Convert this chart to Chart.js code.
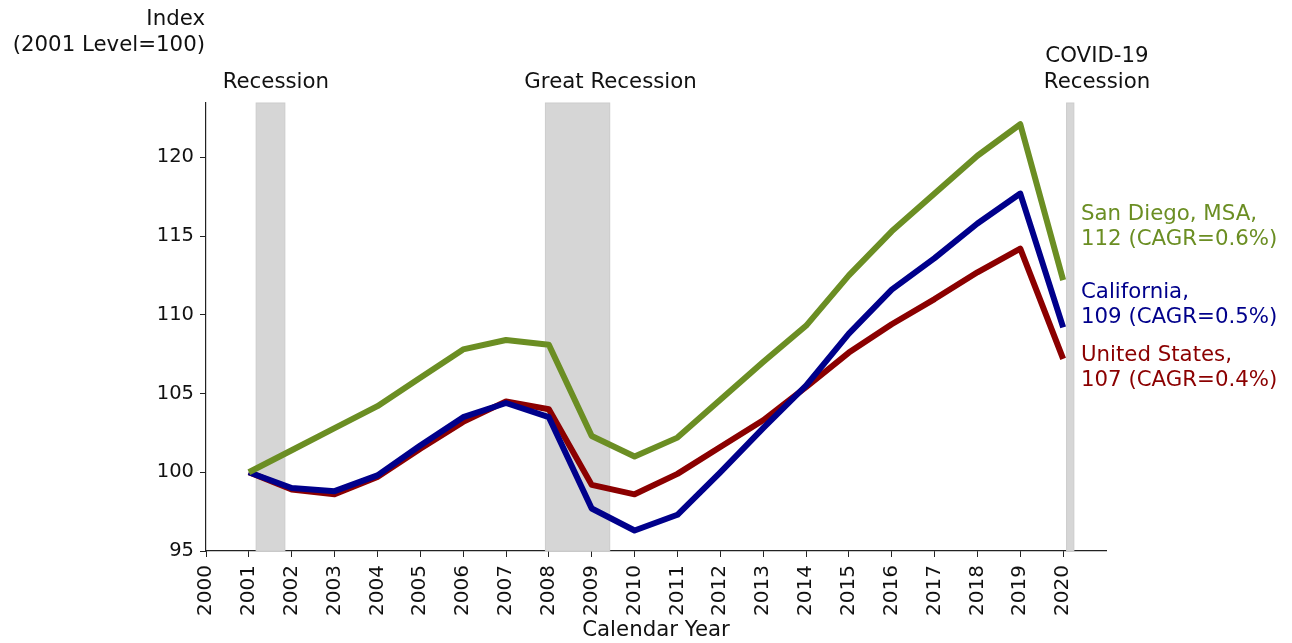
<!DOCTYPE html>
<html>
<head>
<meta charset="utf-8">
<script src="https://cdn.jsdelivr.net/npm/chart.js@4/dist/chart.umd.min.js"></script>
<style>
    body { margin: 0; background: #fff; }
    #wrap { width: 1292px; height: 643px; position: relative; }
</style>
</head>
<body>
<div id="wrap"><canvas id="line-chart"></canvas></div>
<script>
// Dữ liệu
const years = [2001, 2002, 2003, 2004, 2005, 2006, 2007, 2008, 2009, 2010,
               2011, 2012, 2013, 2014, 2015, 2016, 2017, 2018, 2019, 2020];
const sanDiego = [100, 101.4, 102.8, 104.2, 106.0, 107.8, 108.4, 108.1, 102.3, 101.0,
                  102.2, 104.6, 107.0, 109.3, 112.5, 115.3, 117.7, 120.1, 122.1, 112.2];
const california = [100, 99.0, 98.8, 99.8, 101.7, 103.5, 104.4, 103.5, 97.7, 96.3,
                    97.3, 100.0, 102.8, 105.5, 108.8, 111.6, 113.6, 115.8, 117.7, 109.2];
const unitedStates = [100, 98.9, 98.6, 99.7, 101.5, 103.2, 104.5, 104.0, 99.2, 98.6,
                      99.9, 101.6, 103.3, 105.4, 107.6, 109.4, 111.0, 112.7, 114.2, 107.2];

const seriesNames = ['San Diego, MSA,', 'California,', 'United States,'];
const seriesEnds = ['112 (CAGR=0.6%)', '109 (CAGR=0.5%)', '107 (CAGR=0.4%)'];
const seriesColors = ['#6b8e23', '#00008b', '#8b0000'];
const labelAnchorY = [115.6, 110.6, 106.6];

// Các giai đoạn suy thoái
const recessionStart = [2001.17, 2007.92, 2020.08];
const recessionEnd = [2001.84, 2009.42, 2020.25];
const recessionNames = [['Recession'], ['Great Recession'], ['COVID-19', 'Recession']];
const recessionLabelX = [2001.63, 2009.44, 2020.79];

const xTicks = [2000].concat(years);
const yTicks = [95, 100, 105, 110, 115, 120];
const FONT = "'DejaVu Sans', sans-serif";
const TEXT_SIZE = 21.3;

const toPoints = arr => arr.map((v, i) => ({ x: years[i], y: v }));

// Vẽ vùng suy thoái phía sau các đường
const recessionPlugin = {
    id: 'recessions',
    beforeDatasetsDraw(chart) {
        const { ctx, chartArea, scales } = chart;
        ctx.save();
        for (let i = 0; i < recessionStart.length; i++) {
            const x1 = scales.x.getPixelForValue(recessionStart[i]);
            const x2 = scales.x.getPixelForValue(recessionEnd[i]);
            ctx.fillStyle = '#d6d6d6';
            ctx.fillRect(x1, chartArea.top, x2 - x1, chartArea.bottom - chartArea.top);
            ctx.strokeStyle = '#cccccc';
            ctx.lineWidth = 1;
            ctx.strokeRect(x1, chartArea.top, x2 - x1, chartArea.bottom - chartArea.top);
        }
        ctx.restore();
    },
    afterDraw(chart) {
        const { ctx, chartArea, scales } = chart;
        ctx.save();
        ctx.font = TEXT_SIZE + 'px ' + FONT;
        ctx.textBaseline = 'middle';

        // Tiêu đề trục y
        ctx.fillStyle = '#111';
        ctx.textAlign = 'right';
        ctx.fillText('Index', chartArea.left - 1, 19);
        ctx.fillText('(2001 Level=100)', chartArea.left - 1, 45);

        // Nhãn suy thoái
        ctx.textAlign = 'center';
        recessionNames.forEach((lines, i) => {
            const x = scales.x.getPixelForValue(recessionLabelX[i]);
            lines.forEach((txt, j) => {
                const y = 82 - (lines.length - 1 - j) * 26;
                ctx.fillText(txt, x, y);
            });
        });

        // Nhãn cuối đường
        ctx.textAlign = 'left';
        seriesNames.forEach((name, i) => {
            const y = scales.y.getPixelForValue(labelAnchorY[i]);
            ctx.fillStyle = seriesColors[i];
            ctx.fillText(name, chartArea.right - 25, y - 12.5);
            ctx.fillText(seriesEnds[i], chartArea.right - 25, y + 12.5);
        });
        ctx.restore();
    }
};

const ctx = document.getElementById('line-chart').getContext('2d');
new Chart(ctx, {
    type: 'line',
    data: {
        datasets: [
            { label: 'San Diego', data: toPoints(sanDiego), borderColor: seriesColors[0] },
            { label: 'California', data: toPoints(california), borderColor: seriesColors[1] },
            { label: 'United States', data: toPoints(unitedStates), borderColor: seriesColors[2] }
        ].map(d => Object.assign(d, {
            borderWidth: 6,
            pointRadius: 0,
            tension: 0,
            fill: false,
            borderJoinStyle: 'round',
            borderCapStyle: 'butt'
        }))
    },
    options: {
        responsive: true,
        maintainAspectRatio: false,
        animation: false,
        layout: { padding: { left: 0, right: 186, top: 103, bottom: 0 } },
        plugins: {
            legend: { display: false },
            tooltip: { enabled: false }
        },
        scales: {
            x: {
                type: 'linear',
                min: 2000,
                max: 2021,
                afterBuildTicks(scale) {
                    scale.ticks = xTicks.map(v => ({ value: v }));
                },
                afterFit(scale) { scale.height = 92; },
                ticks: {
                    color: '#111',
                    font: { family: FONT, size: 20 },
                    minRotation: 90,
                    maxRotation: 90,
                    padding: 8,
                    callback: v => String(v)
                },
                grid: { drawOnChartArea: false, drawTicks: true, tickLength: 6, color: '#222' },
                border: { color: '#222', width: 1.2 },
                title: {
                    display: true,
                    text: 'Calendar Year',
                    color: '#111',
                    font: { family: FONT, size: TEXT_SIZE },
                    padding: { top: 0, bottom: 0 }
                }
            },
            y: {
                min: 95,
                max: 123.45,
                afterBuildTicks(scale) {
                    scale.ticks = yTicks.map(v => ({ value: v }));
                },
                afterFit(scale) { scale.width = 206; },
                ticks: {
                    color: '#111',
                    font: { family: FONT, size: 19.5 },
                    padding: 6
                },
                grid: { drawOnChartArea: false, drawTicks: true, tickLength: 6, color: '#222' },
                border: { color: '#222', width: 1.2 }
            }
        }
    },
    plugins: [recessionPlugin]
});
</script>
</body>
</html>
